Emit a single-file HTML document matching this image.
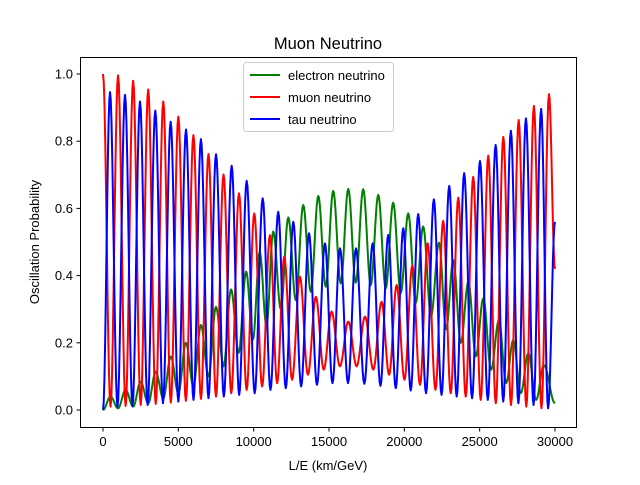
<!DOCTYPE html>
<html><head><meta charset="utf-8"><style>
body{margin:0;background:#fff}
svg text{font-family:"Liberation Sans","DejaVu Sans",sans-serif;fill:#000}
</style></head><body>
<svg id="chart" width="640" height="480" viewBox="0 0 640 480" xmlns="http://www.w3.org/2000/svg">
<rect width="640" height="480" fill="#fff"/>
<text x="328" y="49" font-size="16.5" text-anchor="middle">Muon Neutrino</text>
<g id="series"></g>
<rect x="80.5" y="57.5" width="496" height="370" fill="none" stroke="#000" stroke-width="1"/>
<g id="axes"></g>
<text x="328" y="470" font-size="13" text-anchor="middle">L/E (km/GeV)</text>
<text transform="translate(39,242) rotate(-90)" font-size="13" text-anchor="middle">Oscillation Probability</text>
<g>
<rect x="243.5" y="62.5" width="150" height="69" rx="3" fill="#fff" fill-opacity="0.8" stroke="#ccc"/>
<g><line x1="250" y1="75" x2="280" y2="75" stroke="#008000" stroke-width="2"/><text x="288" y="80" font-size="13">electron neutrino</text></g>
<g><line x1="250" y1="97" x2="280" y2="97" stroke="#ff0000" stroke-width="2"/><text x="288" y="102" font-size="13">muon neutrino</text></g>
<g><line x1="250" y1="119" x2="280" y2="119" stroke="#0000ff" stroke-width="2"/><text x="288" y="124" font-size="13">tau neutrino</text></g>
</g>
</svg>
<script>
const xTicks=[0,5000,10000,15000,20000,25000,30000];
const yTicks=[0.0,0.2,0.4,0.6,0.8,1.0];
const yTickLabels=["0.0","0.2","0.4","0.6","0.8","1.0"];

const redStart=1.0, redEnd=0.42;
const redPeaksX=[0,1000,2000,3000,4000,5000,6000,7000,8000,9025,10040,11080,12030,13070,14130,15170,16280,17390,18490,19490,20530,21550,22580,23580,24570,25570,26570,27590,28600,29600];
const redPeaksY=[1.0,0.996,0.98,0.954,0.918,0.873,0.818,0.762,0.701,0.645,0.585,0.52,0.456,0.397,0.337,0.293,0.263,0.278,0.322,0.372,0.43,0.496,0.563,0.632,0.694,0.757,0.813,0.863,0.905,0.94];
const redTroughsY=[0.01,0.012,0.015,0.018,0.022,0.027,0.033,0.04,0.05,0.06,0.07,0.08,0.09,0.105,0.12,0.13,0.13,0.12,0.105,0.09,0.075,0.06,0.05,0.04,0.03,0.02,0.015,0.01,0.005];

const blueStart=0.0, blueEnd=0.56;
const bluePeaksX=[465,1460,2455,3470,4490,5510,6500,7500,8540,9535,10600,11630,12630,13670,14730,15730,16790,17900,18930,19930,20920,21960,22980,23970,25020,26060,27070,28070,29080];
const bluePeaksY=[0.946,0.938,0.918,0.891,0.858,0.835,0.806,0.761,0.727,0.682,0.63,0.59,0.56,0.526,0.496,0.481,0.481,0.496,0.521,0.541,0.583,0.627,0.667,0.705,0.741,0.789,0.831,0.868,0.896];
const blueTroughsY=[0.01,0.012,0.015,0.02,0.025,0.03,0.035,0.04,0.045,0.05,0.06,0.065,0.07,0.075,0.08,0.08,0.078,0.072,0.065,0.058,0.05,0.045,0.04,0.035,0.03,0.025,0.02,0.015,0.005];

const greenStart=0.0, greenEnd=0.02;
const greenPeaksX=[500,1500,2500,3500,4500,5500,6500,7500,8500,9500,10400,11300,12300,13290,14290,15280,16280,17270,18270,19260,20260,21250,22300,23250,24250,25240,26280,27230,28230,29260];
const greenPeaksY=[0.04,0.06,0.084,0.114,0.159,0.2,0.253,0.307,0.359,0.412,0.47,0.531,0.573,0.61,0.637,0.652,0.658,0.657,0.64,0.617,0.585,0.546,0.498,0.446,0.382,0.332,0.268,0.208,0.169,0.134];
const greenTroughsY=[0.005,0.01,0.02,0.035,0.05,0.07,0.1,0.13,0.17,0.21,0.25,0.3,0.327,0.352,0.367,0.377,0.379,0.372,0.362,0.348,0.318,0.28,0.24,0.2,0.16,0.12,0.08,0.05,0.03];

const X0=0,X1=30000,PX0=103,PX1=555,PY0=410,PY1=74;
function xs(v){return PX0+(v-X0)/(X1-X0)*(PX1-PX0);}
function ys(v){return PY0+v*(PY1-PY0);}
const NS="http://www.w3.org/2000/svg";
const axes=document.getElementById('axes');
function mk(tag,attrs,parent){const e=document.createElementNS(NS,tag);for(const k in attrs)e.setAttribute(k,attrs[k]);parent.appendChild(e);return e;}
xTicks.forEach(t=>{
  const l=mk('line',{x1:xs(t),x2:xs(t),y1:427.5,y2:431.5,stroke:'#000'},axes);
  
  
  const tx=mk('text',{x:xs(t),y:446,'font-size':13,'text-anchor':'middle'},axes);
  
  
  tx.textContent=String(t);
});
yTicks.forEach((t,i)=>{
  const l=mk('line',{x1:76.5,x2:80.5,y1:ys(t),y2:ys(t),stroke:'#000'},axes);
  
  
  const tx=mk('text',{x:73,y:ys(t)+4.5,'font-size':13,'text-anchor':'end'},axes);
  
  
  tx.textContent=yTickLabels[i];
});
function extrema(start,peaksX,peaksY,troughsY,end){
  const pts=[];
  if(peaksX[0]>X0) pts.push([X0,start]);
  for(let i=0;i<peaksX.length;i++){
    pts.push([peaksX[i],peaksY[i]]);
    if(i<troughsY.length){
      const nx=i+1<peaksX.length?(peaksX[i]+peaksX[i+1])/2:(peaksX[i]+X1)/2;
      pts.push([nx,troughsY[i]]);
    }
  }
  pts.push([X1,end]);
  return pts;
}
function pathFrom(pts){
  let d='M'+xs(pts[0][0]).toFixed(2)+','+ys(pts[0][1]).toFixed(2);
  for(let i=0;i<pts.length-1;i++){
    const [x0,y0]=pts[i],[x1,y1]=pts[i+1];
    for(let s=1;s<=10;s++){
      const t=s/10,x=x0+(x1-x0)*t,y=y0+(y1-y0)*(1-Math.cos(Math.PI*t))/2;
      d+='L'+xs(x).toFixed(2)+','+ys(y).toFixed(2);
    }
  }
  return d;
}
const g=document.getElementById('series');
[['electron-neutrino-line','#008000',extrema(greenStart,greenPeaksX,greenPeaksY,greenTroughsY,greenEnd)],
 ['muon-neutrino-line','#ff0000',extrema(redStart,redPeaksX,redPeaksY,redTroughsY,redEnd)],
 ['tau-neutrino-line','#0000ff',extrema(blueStart,bluePeaksX,bluePeaksY,blueTroughsY,blueEnd)]].forEach(([n,c,p])=>{
  const e=mk('path',{d:pathFrom(p),fill:'none',stroke:c,'stroke-width':2,'stroke-linejoin':'round'},g);
  
  
});
</script>
</body></html>
